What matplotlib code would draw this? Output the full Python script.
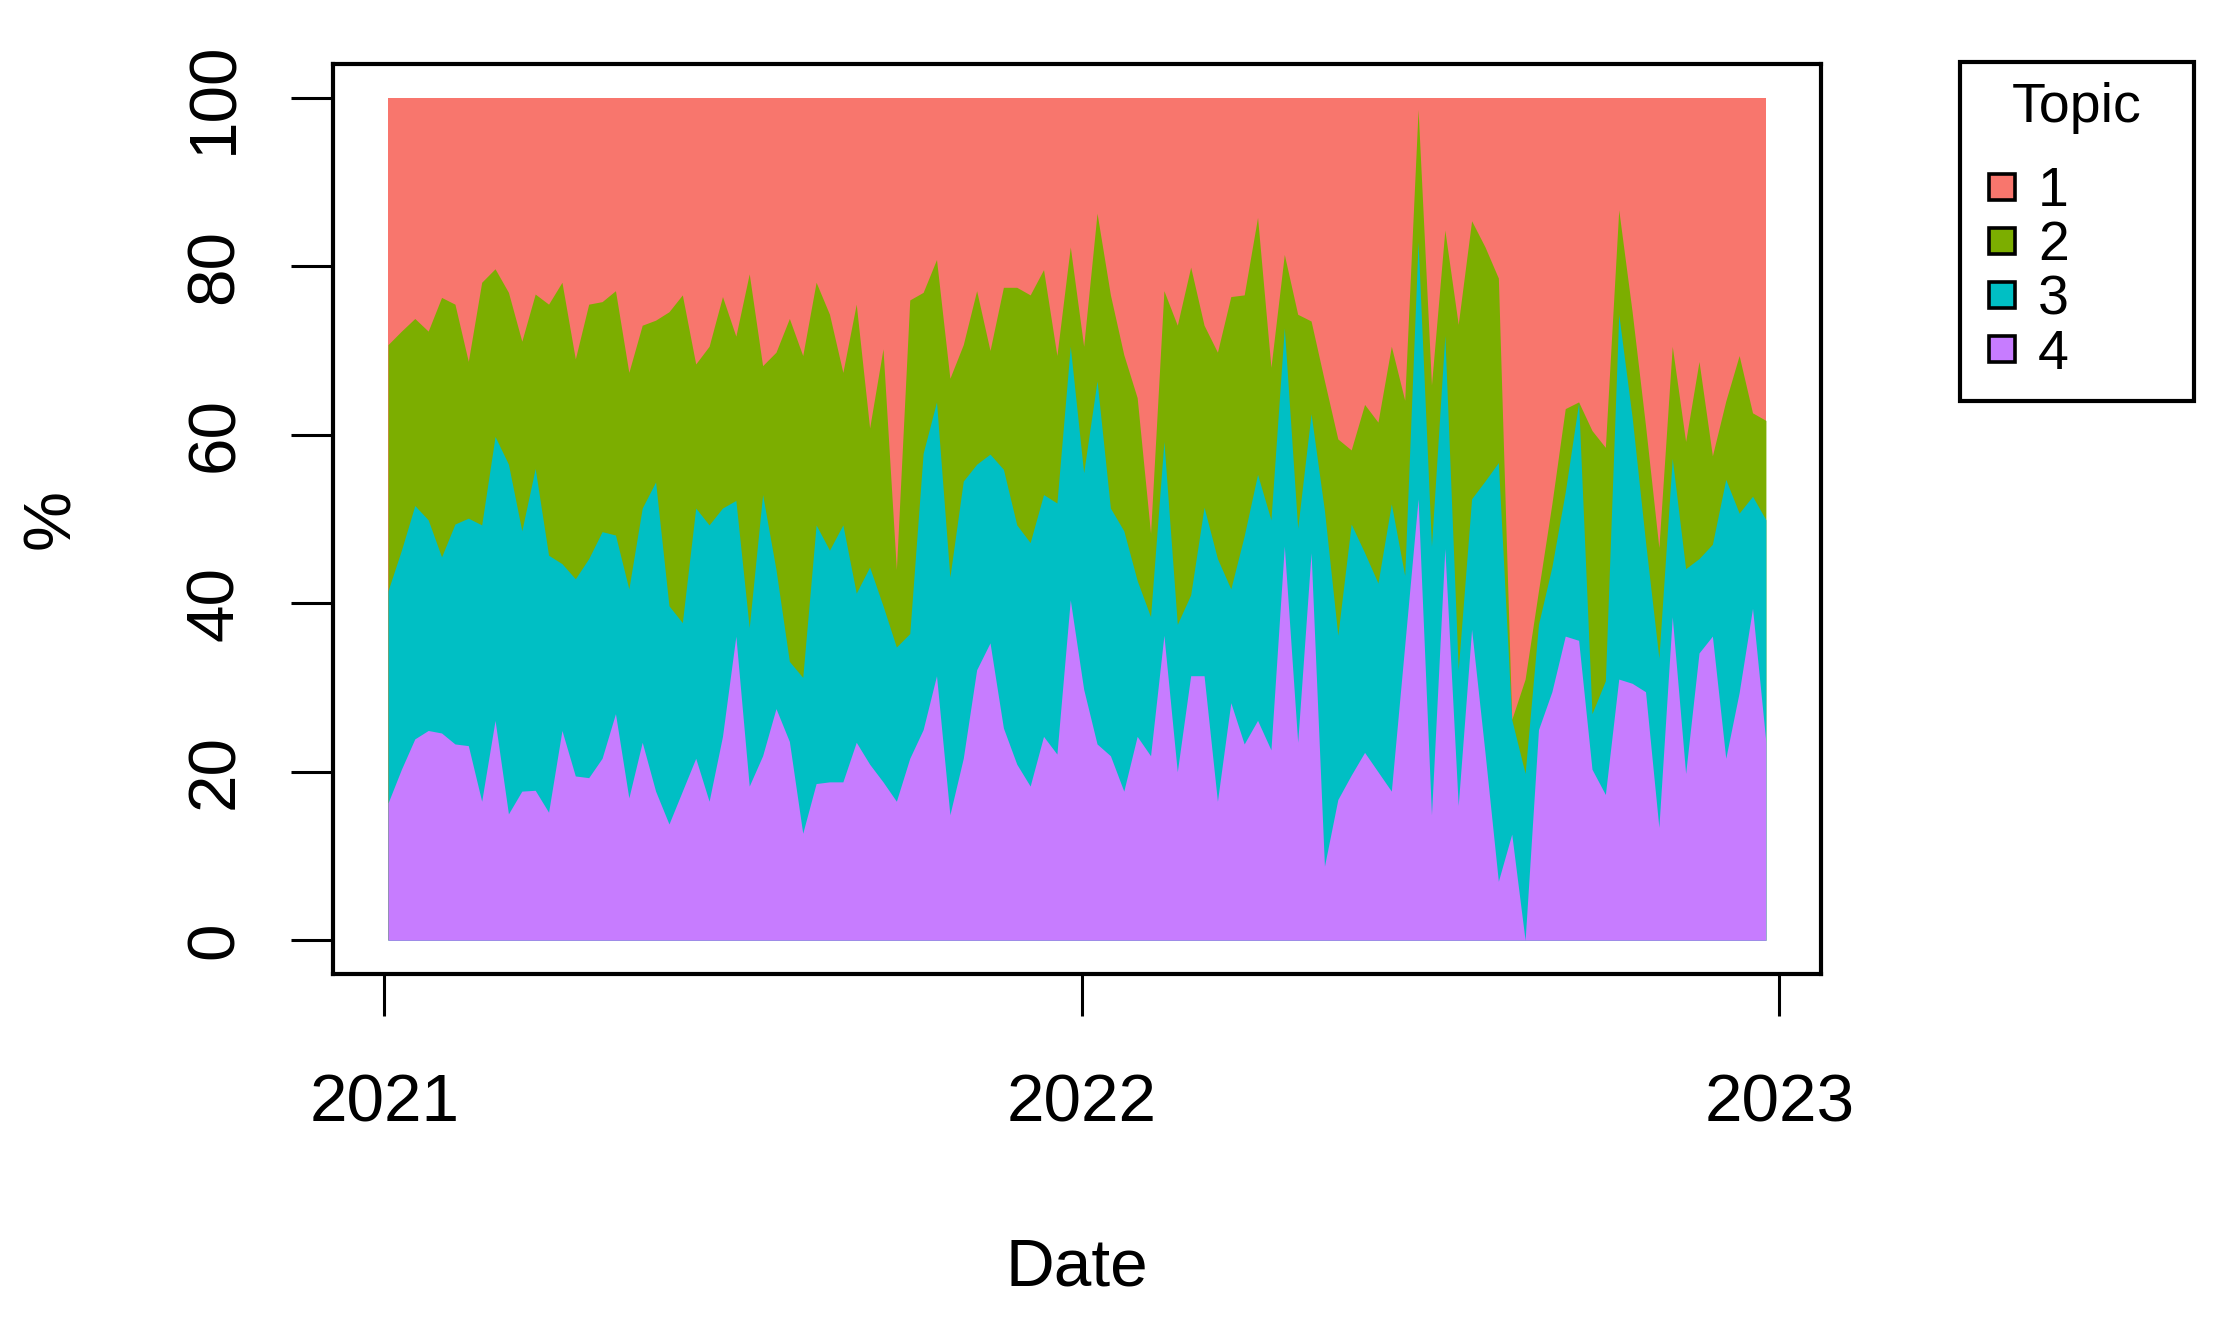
import matplotlib
matplotlib.use("Agg")
from matplotlib import pyplot as plt
from matplotlib.lines import Line2D
import numpy as np
import pandas as pd

# weekly topic shares (%), 2021-01-03 .. 2022-12-25
dates = pd.date_range("2021-01-03", periods=104, freq="7D")

topic1 = [29.3, 27.7, 26.2, 27.7, 23.7, 24.5, 31.3, 21.9, 20.3, 23.1,
          28.9, 23.3, 24.5, 21.9, 31.0, 24.5, 24.2, 22.9, 32.6, 27.0,
          26.4, 25.4, 23.4, 31.6, 29.5, 23.6, 28.3, 20.9, 31.8, 30.2,
          26.2, 30.6, 21.9, 25.7, 32.6, 24.5, 39.2, 29.8, 56.0, 24.0,
          23.1, 19.2, 33.3, 29.3, 22.9, 30.0, 22.5, 22.5, 23.4, 20.4,
          30.6, 17.7, 29.5, 13.7, 23.4, 30.5, 35.6, 51.7, 22.9, 27.0,
          20.1, 27.0, 30.2, 23.6, 23.4, 14.2, 32.0, 18.6, 25.7, 26.5,
          33.6, 40.5, 41.8, 36.4, 38.5, 29.5, 35.9, 1.4, 34.1, 15.7,
          26.9, 14.6, 17.7, 21.4, 73.8, 69.0, 58.5, 48.2, 36.9, 36.1,
          39.5, 41.5, 13.3, 25.4, 38.9, 53.4, 29.5, 40.8, 31.3, 42.5,
          36.0, 30.6, 37.4, 38.3]
topic2 = [29.2, 26.0, 22.2, 22.4, 30.8, 26.1, 18.6, 28.8, 19.9, 20.4,
          22.5, 20.7, 29.8, 33.4, 26.1, 30.2, 27.3, 29.0, 25.7, 21.7,
          19.2, 34.9, 38.9, 17.1, 21.2, 25.1, 19.5, 42.0, 15.3, 25.8,
          40.7, 38.2, 28.8, 28.0, 18.1, 34.3, 16.5, 30.5, 9.2, 39.6,
          19.1, 16.9, 23.6, 16.2, 20.6, 12.3, 21.6, 28.2, 29.4, 26.7,
          17.5, 11.8, 15.0, 19.9, 25.3, 20.9, 21.7, 9.9, 17.9, 35.5,
          38.9, 21.6, 24.5, 34.7, 28.6, 30.5, 18.1, 8.7, 25.4, 11.0,
          15.4, 23.3, 8.8, 17.6, 19.1, 18.7, 20.8, 15.7, 19.1, 12.5,
          41.0, 33.0, 27.8, 21.9, 0.0, 11.2, 4.0, 7.5, 9.9, 0.1,
          33.6, 27.7, 12.4, 12.5, 13.8, 13.1, 13.3, 15.1, 23.4, 10.5,
          9.3, 18.7, 9.9, 11.8]
topic3 = [25.2, 26.0, 27.7, 25.0, 20.9, 26.1, 27.0, 32.8, 33.7, 41.5,
          30.9, 38.2, 30.5, 19.8, 23.4, 26.0, 26.9, 21.2, 24.8, 27.8,
          36.7, 25.9, 20.0, 29.7, 32.8, 27.1, 16.1, 18.8, 31.0, 16.5,
          9.5, 18.5, 30.7, 27.5, 30.5, 17.7, 23.4, 20.9, 18.3, 14.8,
          32.8, 32.5, 28.2, 32.9, 24.4, 22.4, 30.7, 28.4, 28.9, 28.7,
          29.8, 30.1, 25.7, 43.1, 29.4, 30.9, 18.5, 16.5, 23.0, 17.5,
          9.6, 20.0, 28.8, 13.5, 24.7, 29.2, 27.3, 25.9, 25.4, 16.5,
          42.2, 19.5, 29.8, 23.7, 22.4, 34.1, 8.3, 30.5, 31.9, 25.3,
          16.1, 15.5, 32.2, 49.7, 13.6, 19.8, 12.5, 14.8, 17.1, 28.2,
          6.6, 13.5, 43.3, 31.6, 17.8, 20.1, 18.8, 24.3, 11.2, 10.9,
          33.1, 21.3, 13.3, 26.4]
topic4 = [16.3, 20.3, 23.9, 24.9, 24.6, 23.3, 23.1, 16.5, 26.1, 15.0,
          17.7, 17.8, 15.2, 24.9, 19.5, 19.3, 21.6, 26.9, 16.9, 23.5,
          17.7, 13.8, 17.7, 21.6, 16.5, 24.2, 36.1, 18.3, 21.9, 27.5,
          23.6, 12.7, 18.6, 18.8, 18.8, 23.5, 20.9, 18.8, 16.5, 21.6,
          25.0, 31.4, 14.9, 21.6, 32.1, 35.3, 25.2, 20.9, 18.3, 24.2,
          22.1, 40.4, 29.8, 23.3, 21.9, 17.7, 24.2, 21.9, 36.2, 20.0,
          31.4, 31.4, 16.5, 28.2, 23.3, 26.1, 22.6, 46.8, 23.5, 46.0,
          8.8, 16.7, 19.6, 22.3, 20.0, 17.7, 35.0, 52.4, 14.9, 46.5,
          16.0, 36.9, 22.3, 7.0, 12.6, 0.0, 25.0, 29.5, 36.1, 35.6,
          20.3, 17.3, 31.0, 30.5, 29.5, 13.4, 38.4, 19.8, 34.1, 36.1,
          21.6, 29.4, 39.4, 23.5]

topics = ["1", "2", "3", "4"]
colors = ["#F8766D", "#7CAE00", "#00BFC4", "#C77CFF"]
year_ticks = ["2021-01-01", "2022-01-01", "2023-01-01"]
year_labels = ["2021", "2022", "2023"]

plt.rcParams["font.family"] = ["Liberation Sans", "DejaVu Sans"]

fig = plt.figure(figsize=(11.12, 6.63), dpi=200)
ax = fig.add_axes([0.1497, 0.2655, 0.6691, 0.6862])

x = dates.to_pydatetime()
shares = np.array([topic1, topic2, topic3, topic4])
# cumulative tops: 100, 1+..., each layer filled from 0 so no seams
tops = np.cumsum(shares[::-1], axis=0)[::-1]
for top, c in zip(tops, colors):
    ax.fill_between(x, 0, top, color=c, lw=0)

# R-style 4% padding
pad = (x[-1] - x[0]) * 0.04
ax.set_xlim(x[0] - pad, x[-1] + pad)
ax.set_ylim(-4, 104)

ax.set_yticks(range(0, 101, 20))
ax.set_xticks(pd.to_datetime(year_ticks).to_pydatetime())
ax.set_xticklabels(year_labels)
ax.tick_params(axis="both", length=15, width=1.1, labelsize=24.3, color="black")
ax.tick_params(axis="x", pad=21)
ax.tick_params(axis="y", pad=16)
plt.setp(ax.get_yticklabels(), rotation=90, va="center")

for s in ax.spines.values():
    s.set_linewidth(1.5)

ax.set_xlabel("Date", fontsize=24.3)
ax.xaxis.set_label_coords(0.5, -0.29)
ax.set_ylabel("%", fontsize=24.3)
ax.yaxis.set_label_coords(-0.168, 0.5)

handles = [Line2D([], [], ls="none", marker="s", markersize=9.6,
                  markerfacecolor=c, markeredgecolor="black", markeredgewidth=1.3)
           for c in colors]
leg = ax.legend(handles, topics, title="Topic", loc="upper left",
                bbox_to_anchor=(0.8813, 0.6983, 0.1052, 0.2549),
                bbox_transform=fig.transFigure, mode="expand",
                borderaxespad=0, borderpad=0.36, handlelength=0.8,
                handletextpad=0.24, labelspacing=0.04, fontsize=20,
                title_fontsize=20, fancybox=False, framealpha=1,
                edgecolor="black")
leg.get_frame().set_linewidth(1.5)
leg._legend_box.sep = 11.5

fig.savefig("out.png", dpi=200)
